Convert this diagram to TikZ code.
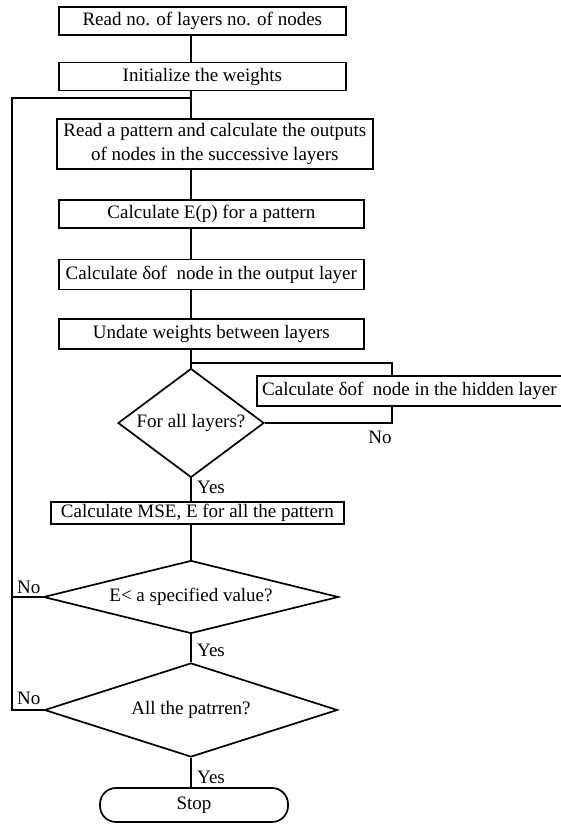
\documentclass[tikz,border=0pt]{standalone}
\usepackage{fontspec}
\setmainfont{Liberation Serif}
\usetikzlibrary{positioning}
\usetikzlibrary{shapes.geometric}

\begin{document}
\begin{tikzpicture}[
		x=1pt, y=1pt,
		% Style definitions
		stepbox/.style={draw, line width=1.7pt, align=center, inner sep=1pt, font=\fontsize{19}{24}\selectfont},
		decision/.style={draw, diamond, line width=1.7pt, inner sep=0pt, font=\fontsize{19}{24}\selectfont},
		terminal/.style={draw, line width=1.7pt, rounded corners=16pt, minimum width=188pt, minimum height=34pt, font=\fontsize{19}{24}\selectfont},
		flow/.style={line width=1.7pt},
		answer/.style={inner sep=0pt, font=\fontsize{19}{24}\selectfont},
		node distance=0pt,
		]
		\useasboundingbox (0,0) rectangle (561,-824);

		% === Axis and loop coordinates ===
		\coordinate (axis) at (191,0);
		\coordinate (loopx) at (12,0);
		\coordinate (loopin) at (191,-98);
		\coordinate (fork) at (191,-363);
		\coordinate (bendx) at (392,0);

		% === Process boxes ===
		\node[stepbox, minimum width=287pt, minimum height=28pt, anchor=north west] (read) at (58,-6) {Read no. of layers no. of nodes};
		\node[stepbox, minimum width=287pt, minimum height=28pt, below right=26pt and 0pt of read.south west] (init) {Initialize the weights};
		\node[stepbox, minimum width=316pt, minimum height=50pt, anchor=north west] (pattern) at (56,-118) {Read a pattern and calculate the outputs\\of nodes in the successive layers};
		\node[stepbox, minimum width=305pt, minimum height=28pt, anchor=north west] (error) at (58,-199) {Calculate E(p) for a pattern};
		\node[stepbox, minimum width=305pt, minimum height=30pt, below right=30pt and 0pt of error.south west] (deltaout) {Calculate δof~ node in the output layer};
		\node[stepbox, minimum width=305pt, minimum height=30pt, below right=28pt and 0pt of deltaout.south west] (update) {Undate weights between layers};
		\node[stepbox, minimum width=305pt, minimum height=30pt, anchor=north west] (hidden) at (256,-375) {Calculate δof~ node in the hidden layer};
		\node[stepbox, minimum width=293pt, minimum height=22pt, anchor=north west] (mse) at (50,-501) {Calculate MSE, E for all the pattern};

		% === Decisions and end ===
		\node[decision, aspect=1.34, minimum width=146pt, minimum height=109pt] (forall) at (191,-423) {For all layers?};
		\node[decision, aspect=4.04, minimum width=295pt, minimum height=73pt] (errtest) at (191,-597) {E< a specified value?};
		\node[decision, aspect=3.12, minimum width=293pt, minimum height=94pt] (allpat) at (191,-710) {All the patrren?};
		\node[terminal] (stop) at (194,-805) {Stop};

		% === Branch labels ===
		\node[answer] (nohidden) at (380,-437) {No};
		\node[answer, anchor=west] (yesforall) at (197,-487) {Yes};
		\node[answer, anchor=west] (noerr) at (17,-587) {No};
		\node[answer, anchor=west] (yeserr) at (197,-650) {Yes};
		\node[answer, anchor=west] (noall) at (17,-698) {No};
		\node[answer, anchor=west] (yesall) at (197,-777) {Yes};

		% === Main line ===
		\draw[flow] (read.south -| axis) -- (init.north -| axis);
		\draw[flow] (init.south -| axis) -- (pattern.north -| axis);
		\draw[flow] (pattern.south -| axis) -- (error.north -| axis);
		\draw[flow] (error.south -| axis) -- (deltaout.north -| axis);
		\draw[flow] (deltaout.south -| axis) -- (update.north -| axis);
		\draw[flow] (update.south -| axis) -- (forall.north);
		\draw[flow] (forall.south) -- (mse.north -| axis);
		\draw[flow] (mse.south -| axis) -- (errtest.north);
		\draw[flow] (errtest.south) -- (allpat.north);
		\draw[flow] (allpat.south) -- (stop.north -| axis);

		% === Hidden layer loop ===
		\draw[flow] (fork) -| (hidden.north -| bendx);
		\draw[flow] (hidden.south -| bendx) |- (forall.east);

		% === Back to next pattern ===
		\draw[flow] (errtest.west) -- (errtest.west -| loopx);
		\draw[flow] (allpat.west) -| (loopx |- loopin) -- (loopin);

	\end{tikzpicture}
\end{document}
